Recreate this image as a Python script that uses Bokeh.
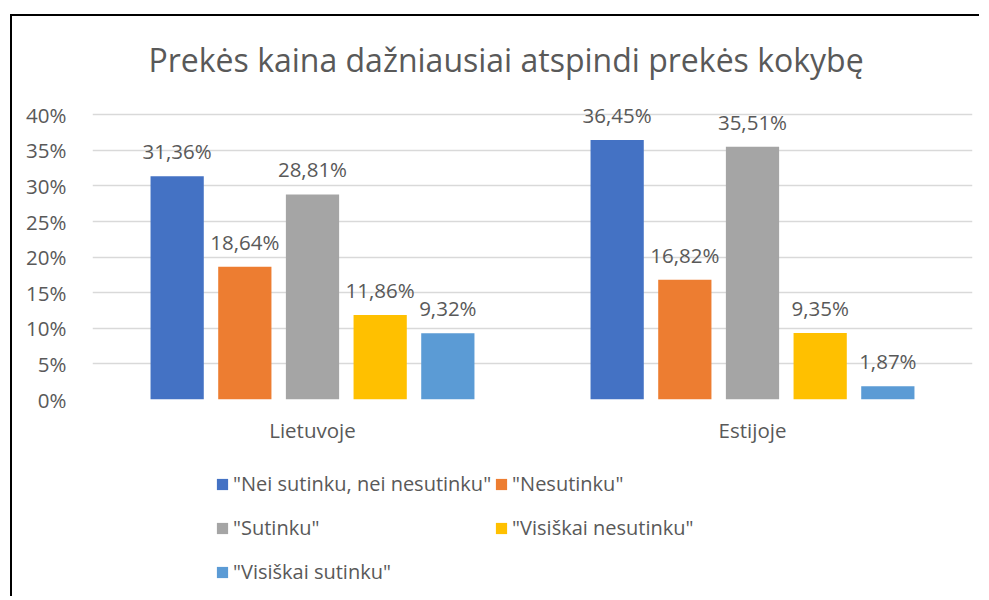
from bokeh.plotting import figure
from bokeh.layouts import column
from bokeh.models import ColumnDataSource, Range1d, FactorRange, Legend, LegendItem, FixedTicker, CustomJSTickFormatter
from bokeh.transform import dodge
from bokeh.embed import file_html
from bokeh.resources import INLINE
from bokeh.core.properties import value

categories = ["Lietuvoje", "Estijoje"]
series = ['"Nei sutinku, nei nesutinku"', '"Nesutinku"', '"Sutinku"', '"Visiškai nesutinku"', '"Visiškai sutinku"']
nei = [31.36, 36.45]
nesutinku = [18.64, 16.82]
sutinku = [28.81, 35.51]
vis_nesutinku = [11.86, 9.35]
vis_sutinku = [9.32, 1.87]
colors = ["#4472C4", "#ED7D31", "#A5A5A5", "#FFC000", "#5B9BD5"]
y_ticks = [0, 5, 10, 15, 20, 25, 30, 35, 40]

FONT = "Open Sans"
TXT = "#595959"
FS = "20.5px"

p = figure(x_range=FactorRange(*categories), y_range=Range1d(0, 42),
           width=969, height=443, output_backend="svg", toolbar_location=None,
           min_border_left=80, min_border_right=9, min_border_top=83, min_border_bottom=60)
p.margin = (14, 0, 0, 10)
p.styles = {"border-top": "2px solid black", "border-left": "2px solid black"}
p.outline_line_color = None

p.title.text = "Prekės kaina dažniausiai atspindi prekės kokybę"
p.title.text_font = FONT
p.title.text_font_size = "32px"
p.title.text_font_style = "normal"
p.title.text_color = TXT
p.title.align = "left"
p.title.offset = 56
p.title.standoff = 39

all_vals = [nei, nesutinku, sutinku, vis_nesutinku, vis_sutinku]
slot = 0.1538
bw = 0.121
for i, (name, vals, c) in enumerate(zip(series, all_vals, colors)):
    src = ColumnDataSource(dict(cat=categories, v=vals, lab=[f"{x:.2f}%".replace(".", ",") for x in vals]))
    off = (i - 2) * slot
    p.vbar(x=dodge("cat", off, range=p.x_range), top="v", width=bw, source=src, color=c, line_color=None)
    p.text(x=dodge("cat", off, range=p.x_range), y="v", text="lab", source=src,
           text_font=value(FONT), text_font_size=FS, text_color=TXT,
           text_align="center", text_baseline="alphabetic", y_offset=-25)

p.yaxis.ticker = FixedTicker(ticks=y_ticks)
p.yaxis.formatter = CustomJSTickFormatter(code="return tick + '%';")
p.yaxis.axis_line_color = None
p.yaxis.major_tick_line_color = None
p.yaxis.minor_tick_line_color = None
p.yaxis.major_label_text_font = FONT
p.yaxis.major_label_text_font_size = FS
p.yaxis.major_label_text_color = TXT
p.yaxis.major_label_standoff = 20

p.xaxis.axis_line_color = None
p.xaxis.major_tick_line_color = None
p.xaxis.minor_tick_line_color = None
p.xaxis.major_label_text_font = FONT
p.xaxis.major_label_text_font_size = FS
p.xaxis.major_label_text_color = TXT
p.xaxis.major_label_standoff = 10

p.xgrid.grid_line_color = None
p.ygrid.grid_line_color = "#D9D9D9"
p.ygrid.grid_line_width = 1.3
p.ygrid.ticker = FixedTicker(ticks=y_ticks)

# legend panel
lg = figure(width=969, height=139, output_backend="svg", toolbar_location=None,
            x_range=Range1d(0, 1), y_range=Range1d(0, 1),
            min_border=0, min_border_left=0, min_border_right=0, min_border_top=0, min_border_bottom=0)
lg.margin = (0, 0, 0, 10)
lg.styles = {"border-left": "2px solid black"}
lg.outline_line_color = None
lg.axis.visible = False
lg.grid.visible = False
items = []
for name, c in zip(series, colors):
    r = lg.vbar(x=[0], top=[0], width=0, color=c, line_color=None)
    items.append(LegendItem(label=name, renderers=[r]))
legend = Legend(items=items, location=(123, 4), ncols=2, orientation="horizontal")
legend.label_text_font = FONT
legend.label_text_font_size = "20px"
legend.label_text_color = TXT
legend.glyph_width = 14
legend.glyph_height = 14
legend.label_standoff = 4
legend.label_height = 41
legend.spacing = 3
legend.padding = 0
legend.margin = 0
legend.border_line_color = None
legend.background_fill_alpha = 0
lg.add_layout(legend, "center")

layout = column(p, lg, spacing=0)
open("out.html", "w").write(file_html(layout, INLINE))
